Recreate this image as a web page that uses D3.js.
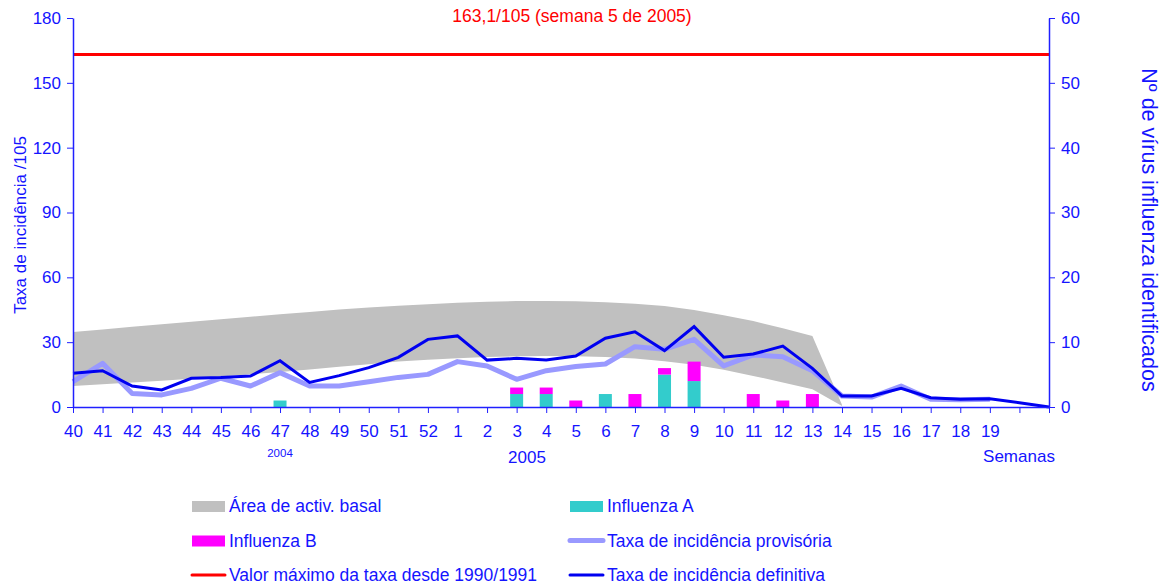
<!DOCTYPE html>
<head>
<meta charset="utf-8">
<style>
body { margin: 0; background: #fff; }
svg text { font-family: "Liberation Sans", Arial, sans-serif; fill: #1414ff; }
.axis .domain, .axis line { stroke: #2020ff; }
</style>
<script src="https://d3js.org/d3.v7.min.js"></script>
</head>
<body>
<svg width="1165" height="585"></svg>
<script>
// weeks 40/2004 .. 21/2005
var weeks = ["40","41","42","43","44","45","46","47","48","49","50","51","52",
  "1","2","3","4","5","6","7","8","9","10","11","12","13","14","15","16","17","18","19","20","21"];
var weekLabels = ["40","41","42","43","44","45","46","47","48","49","50","51","52",
  "1","2","3","4","5","6","7","8","9","10","11","12","13","14","15","16","17","18","19","",""];

var definitiva = [15.6,16.8,9.7,7.9,13.3,13.6,14.3,21.4,11.4,14.5,18.2,23.0,31.3,
  32.9,21.7,22.5,21.7,23.6,31.8,34.8,26.1,37.2,23.0,24.5,28.2,17.9,5.1,5.1,8.6,4.3,3.6,3.8,2.0,0];
var provisoria = [11.7,20.2,6.3,5.6,8.6,13.3,9.7,15.9,9.7,9.7,11.7,13.7,15.1,
  21.0,19.0,12.8,16.8,18.7,19.9,27.9,26.7,31.3,19.0,24.1,23.3,16.8,5.1,4.6,9.7,3.6,3.3,3.6,null,null];
var basalHigh = [34.7,35.9,37.1,38.3,39.5,40.6,41.8,42.9,44.0,45.1,46.0,46.8,47.5,
  48.2,48.7,49.0,49.0,48.9,48.5,47.8,46.7,44.9,42.5,39.8,36.4,32.9,1.0];
var basalLow = [9.7,10.5,11.3,12.2,13.1,14.1,15.1,16.2,17.4,18.6,19.8,21.0,21.9,
  22.6,23.1,23.5,23.6,23.5,23.1,22.4,21.2,19.5,17.2,14.4,11.3,8.2,0.5];
var fluA = [0,0,0,0,0,0,0,1,0,0,0,0,0, 0,0,2,2,0,2,0,5,4,0,0,0,0,0,0,0,0,0,0,0,0];
var fluB = [0,0,0,0,0,0,0,0,0,0,0,0,0, 0,0,1,1,1,0,2,1,3,0,2,1,2,0,0,0,0,0,0,0,0];
var maxRate = 163.1;

var svg = d3.select("svg"),
    plotLeft = 73, plotRight = 1049, plotTop = 18, plotBottom = 407;

var x = d3.scalePoint().domain(weeks).range([plotLeft, plotRight]);
var y = d3.scaleLinear().domain([0, 180]).range([plotBottom, plotTop]);
var y2 = d3.scaleLinear().domain([0, 60]).range([plotBottom, plotTop]);

// basal activity band
var band = d3.area()
    .x(function(d, i) { return x(weeks[i]); })
    .y0(function(d) { return y(d[0]); })
    .y1(function(d) { return y(d[1]); });
svg.append("path")
    .datum(basalLow.map(function(v, i) { return [v, basalHigh[i]]; }))
    .attr("fill", "#c0c0c0")
    .attr("d", band);

// virus bars
var bw = 13;
var bars = svg.append("g");
weeks.forEach(function(w, i) {
  if (fluA[i] > 0) {
    bars.append("rect")
      .attr("x", x(w) - bw / 2).attr("width", bw)
      .attr("y", y2(fluA[i])).attr("height", y2(0) - y2(fluA[i]))
      .attr("fill", "#33cccc");
  }
  if (fluB[i] > 0) {
    bars.append("rect")
      .attr("x", x(w) - bw / 2).attr("width", bw)
      .attr("y", y2(fluA[i] + fluB[i])).attr("height", y2(fluA[i]) - y2(fluA[i] + fluB[i]))
      .attr("fill", "#ff00ff");
  }
});

var line = d3.line()
    .defined(function(d) { return d != null; })
    .x(function(d, i) { return x(weeks[i]); })
    .y(function(d) { return y(d); });

svg.append("path").datum(provisoria)
    .attr("fill", "none").attr("stroke", "#9999ff").attr("stroke-width", 5)
    .attr("stroke-linejoin", "round").attr("d", line);
svg.append("path").datum(definitiva)
    .attr("fill", "none").attr("stroke", "#0000f0").attr("stroke-width", 3)
    .attr("d", line);

svg.append("line")
    .attr("x1", plotLeft).attr("x2", plotRight)
    .attr("y1", y(maxRate)).attr("y2", y(maxRate))
    .attr("stroke", "#ff0000").attr("stroke-width", 3);

// axes
svg.append("g").attr("class", "axis")
    .attr("transform", "translate(" + plotLeft + ",0)")
    .call(d3.axisLeft(y).tickValues([0,30,60,90,120,150,180]).tickSize(6).tickSizeOuter(0).tickPadding(6));
svg.append("g").attr("class", "axis")
    .attr("transform", "translate(" + plotRight + ",0)")
    .call(d3.axisRight(y2).tickValues([0,10,20,30,40,50,60]).tickSize(6).tickSizeOuter(0).tickPadding(6));
svg.append("g").attr("class", "axis")
    .attr("transform", "translate(0," + plotBottom + ")")
    .call(d3.axisBottom(x).tickSize(6).tickSizeOuter(0).tickPadding(12)
      .tickFormat(function(d, i) { return weekLabels[i]; }));
svg.selectAll(".axis text").attr("font-size", 17).style("font-family", "'Liberation Sans', Arial, sans-serif");
svg.selectAll(".axis .domain").attr("stroke-width", 1.5);

svg.append("text").attr("x", x("47")).attr("y", 457).attr("text-anchor", "middle")
    .attr("font-size", 11.5).text("2004");
svg.append("text").attr("x", 527).attr("y", 463).attr("text-anchor", "middle")
    .attr("font-size", 17).text("2005");
svg.append("text").attr("x", 1019).attr("y", 462).attr("text-anchor", "middle")
    .attr("font-size", 17).text("Semanas");

svg.append("text").attr("x", 572).attr("y", 22).attr("text-anchor", "middle")
    .attr("font-size", 17.5).style("fill", "#ff0000").text("163,1/105 (semana 5 de 2005)");

svg.append("text").attr("transform", "translate(26,225) rotate(-90)")
    .attr("text-anchor", "middle").attr("font-size", 17).text("Taxa de incidência /105");
svg.append("text").attr("transform", "translate(1142,230) rotate(90)")
    .attr("text-anchor", "middle").attr("font-size", 21.5).text("Nº de vírus influenza identificados");

// legend
var legend = [
  {label: "Área de activ. basal", type: "box", color: "#c0c0c0", col: 0, row: 0},
  {label: "Influenza A", type: "box", color: "#33cccc", col: 1, row: 0},
  {label: "Influenza B", type: "box", color: "#ff00ff", col: 0, row: 1},
  {label: "Taxa de incidência provisória", type: "line", color: "#9999ff", w: 5, col: 1, row: 1},
  {label: "Valor máximo da taxa desde 1990/1991", type: "line", color: "#ff0000", w: 3, col: 0, row: 2},
  {label: "Taxa de incidência definitiva", type: "line", color: "#0000f0", w: 3, col: 1, row: 2}
];
var lg = svg.selectAll(".lg").data(legend).enter().append("g")
    .attr("transform", function(d) { return "translate(" + (d.col ? 570 : 192) + "," + (506 + d.row * 34.5) + ")"; });
lg.each(function(d) {
  var g = d3.select(this);
  if (d.type == "box") {
    g.append("rect").attr("x", 0).attr("y", -5).attr("width", 33).attr("height", 11).attr("fill", d.color);
  } else {
    g.append("line").attr("x1", 0).attr("x2", 33).attr("y1", 0).attr("y2", 0)
      .attr("stroke", d.color).attr("stroke-width", d.w).attr("stroke-linecap", "round");
  }
});
lg.append("text").attr("x", 37).attr("y", 6).attr("font-size", 17.5).text(function(d) { return d.label; });
</script>
</body>
